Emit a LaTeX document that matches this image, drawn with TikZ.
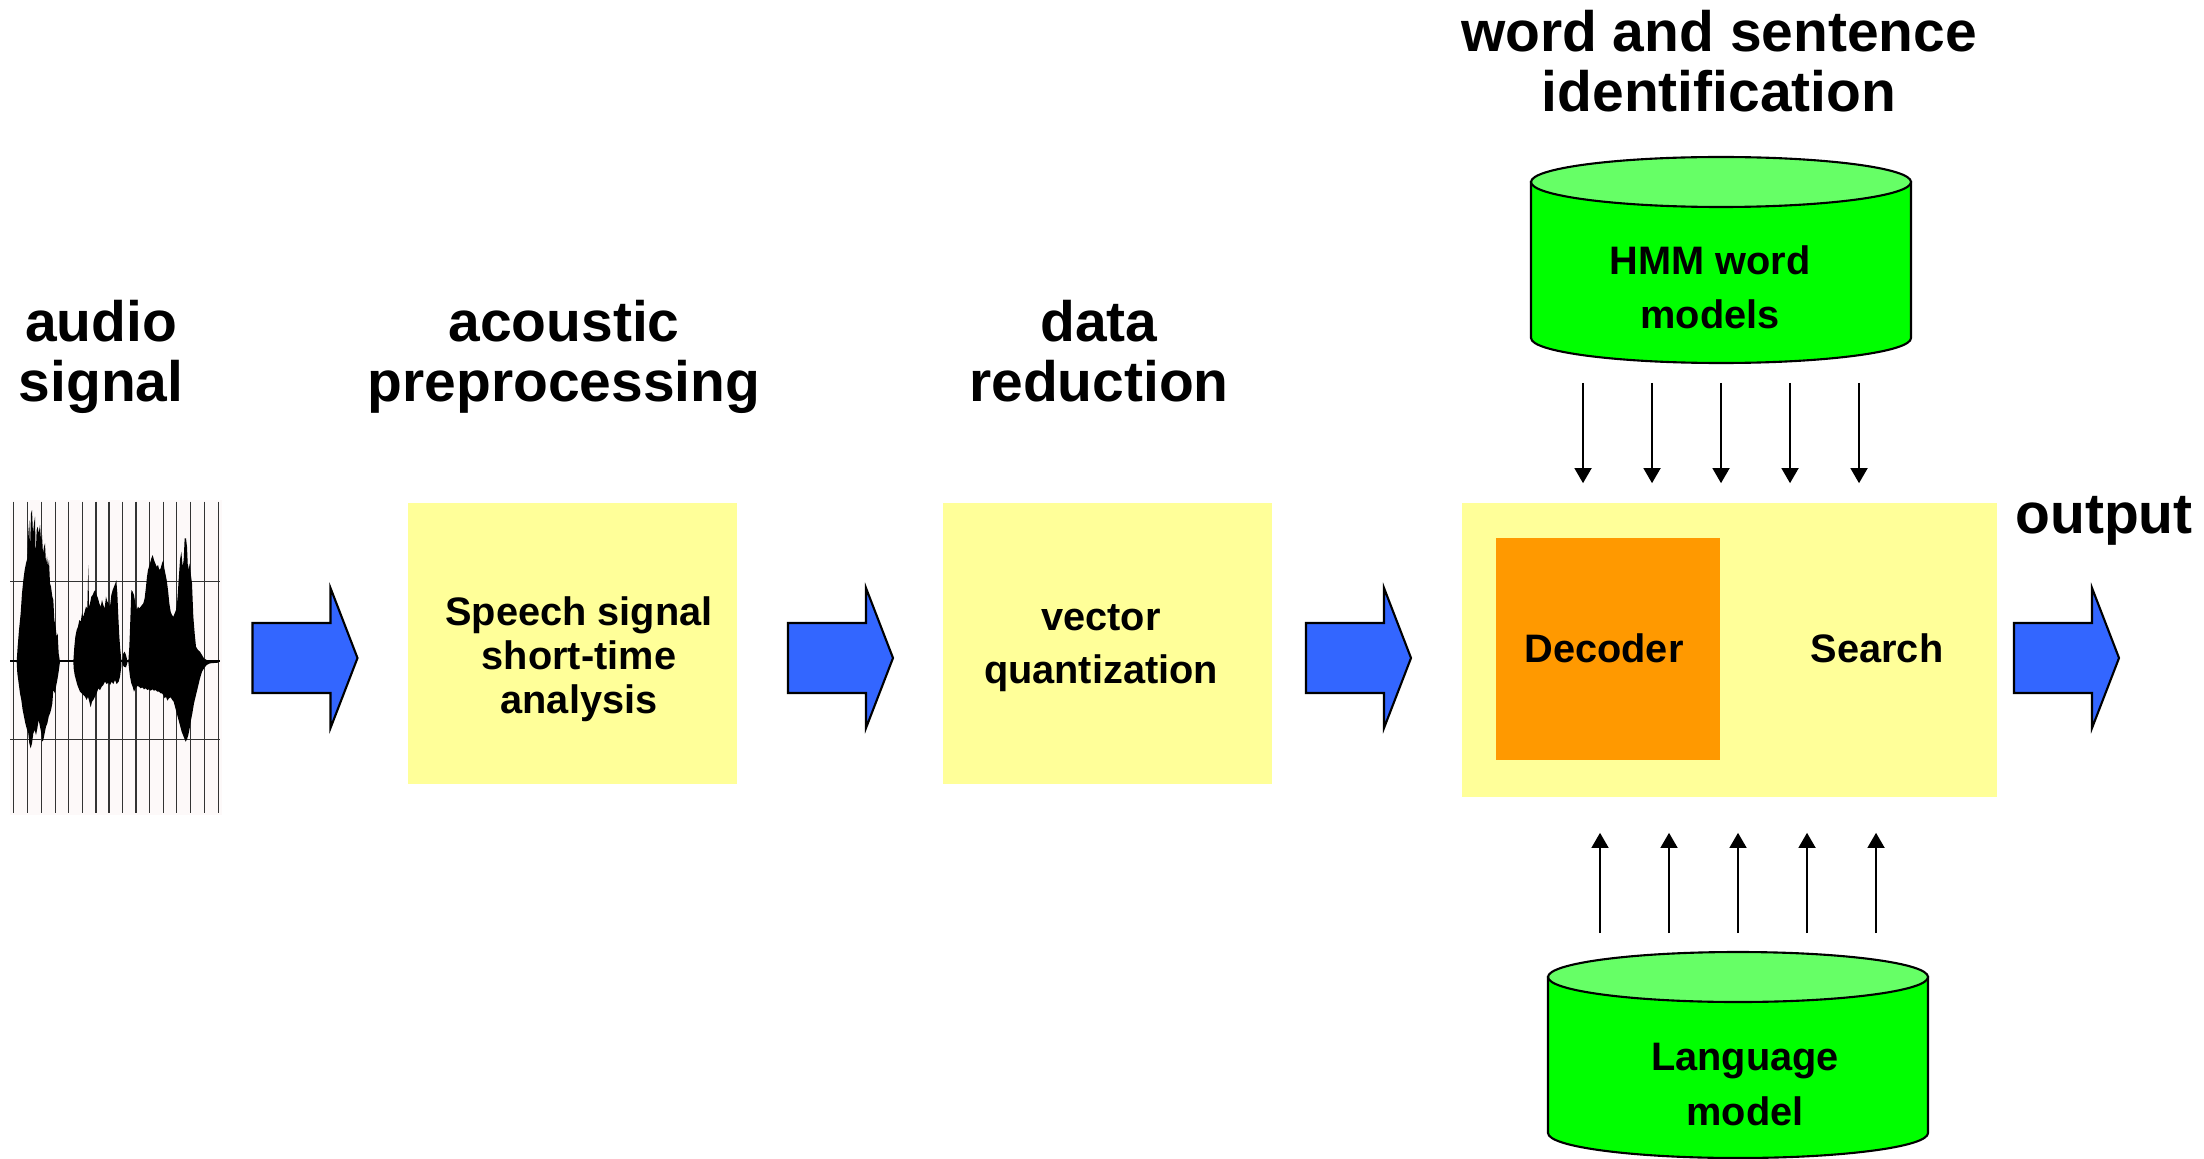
\documentclass[tikz,border=0pt]{standalone}
\usepackage{fontspec}
\setmainfont{Liberation Sans}
\usetikzlibrary{arrows.meta}

\definecolor{boxyellow}{HTML}{FFFF99}
\definecolor{decorange}{HTML}{FF9900}
\definecolor{dbgreen}{HTML}{00FF00}
\definecolor{dbtop}{HTML}{66FF66}
\definecolor{flowblue}{HTML}{3366FF}
\definecolor{wavepaper}{HTML}{FDF9F9}

% blue block arrow centred on x = #1
\newcommand\flowarrow[1]{%
  \draw[bigarrow] (#1-52,623) -- (#1+26,623) -- (#1+26,588) -- (#1+53,658)
    -- (#1+26,728) -- (#1+26,693) -- (#1-52,693) -- cycle;}

\begin{document}
\begin{tikzpicture}[x=0.01cm, y=-0.01cm,
  % multi-line nodes: the base anchor sits on the last line's baseline
  title/.style={font=\bfseries\fontsize{16.2}{17.1}\selectfont, align=center, inner sep=0pt, anchor=base},
  boxtext/.style={font=\bfseries\fontsize{11.3}{#1}\selectfont, align=center, inner sep=0pt, anchor=base},
  boxtext/.default=12.5,
  ybox/.style={fill=boxyellow, draw=none, inner sep=0pt},
  vec/.style={line width=0.6pt, -{Triangle[width=4.8pt,length=4.3pt]}},
  bigarrow/.style={fill=flowblue, draw=black, line width=0.6pt, line join=miter},
  dbside/.style={fill=dbgreen, draw=black, line width=0.6pt},
  dbcap/.style={fill=dbtop, draw=black, line width=0.6pt},
  gridln/.style={draw=black!80, line width=0.45pt},
  dbshape/.style={inner sep=0pt, minimum width=3.8cm, minimum height=2.06cm}]

\useasboundingbox (0,0) rectangle (2204,1158);

% ---- titles ----
\node[title] (ttl1) at (101,402) {audio\\signal};
\node[title] (ttl2) at (564,402) {acoustic\\preprocessing};
\node[title] (ttl3) at (1099,402) {data\\reduction};
\node[title] (ttl4) at (1719,112) {word and sentence\\identification};
\node[title] (ttl5) at (2104,533) {output};

% ---- speech waveform with time/amplitude grid ----
\begin{scope}[shift={(0,480)}, scale=1/3]
  \fill[wavepaper] (30,60) rectangle (665,1005);
  \foreach \x in {40,83,125,167,205,247,288,327,368,408,448,490,530,572,613,655}
    \draw[gridln] (\x,65) -- (\x,1000);
  \foreach \y in {305,778}
    \draw[gridln] (30,\y) -- (660,\y);
  \draw[line width=0.75pt] (30,543) -- (660,543);
  % first burst
  \fill (50,545) -- (53,500) -- (57,450) -- (62,400) -- (66,340) -- (70,300) -- (74,270) -- (78,250)
    -- (82,235) -- (85,160) -- (88,120) -- (90,210) -- (93,100) -- (96,90) -- (99,160) -- (102,130)
    -- (105,110) -- (107,230) -- (110,150) -- (113,140) -- (116,160) -- (120,135) -- (123,180)
    -- (126,165) -- (129,220) -- (132,200) -- (135,190) -- (138,250) -- (141,230) -- (144,260)
    -- (147,240) -- (150,310) -- (153,320) -- (157,350) -- (160,360) -- (163,420) -- (167,440)
    -- (170,470) -- (173,460) -- (176,520) -- (180,545)
    -- (176,575) -- (172,600) -- (168,620) -- (165,640) -- (160,630) -- (157,670) -- (153,690)
    -- (150,700) -- (146,710) -- (142,730) -- (138,740) -- (134,760) -- (130,780) -- (127,785)
    -- (124,760) -- (120,740) -- (116,720) -- (112,745) -- (108,765) -- (104,750) -- (100,760)
    -- (96,790) -- (92,805) -- (88,790) -- (85,760) -- (80,745) -- (76,730) -- (72,710) -- (68,690)
    -- (64,660) -- (60,640) -- (56,610) -- (52,580) -- cycle;
  % second burst
  \fill (220,545) -- (223,500) -- (226,470) -- (230,450) -- (234,440) -- (238,420) -- (242,425)
    -- (246,400) -- (250,410) -- (254,395) -- (258,380) -- (262,385) -- (265,255) -- (267,380)
    -- (270,370) -- (274,350) -- (278,345) -- (282,335) -- (286,330) -- (290,345) -- (294,355)
    -- (298,370) -- (302,380) -- (306,360) -- (310,375) -- (314,385) -- (318,350) -- (322,365)
    -- (326,370) -- (330,380) -- (334,345) -- (338,330) -- (342,320) -- (346,310) -- (349,300)
    -- (352,340) -- (355,410) -- (358,470) -- (361,510) -- (364,540)
    -- (364,560) -- (360,590) -- (356,605) -- (350,612) -- (345,600) -- (340,612) -- (335,605)
    -- (330,615) -- (325,608) -- (320,612) -- (315,605) -- (310,615) -- (305,620) -- (300,630)
    -- (295,625) -- (290,640) -- (285,650) -- (280,660) -- (276,665) -- (272,682) -- (268,665)
    -- (264,650) -- (260,660) -- (255,650) -- (250,645) -- (245,640) -- (240,635) -- (236,625)
    -- (232,615) -- (228,600) -- (224,585) -- (221,565) -- cycle;
  \fill (366,545) -- (370,520) -- (374,515) -- (378,525) -- (383,545) -- (378,562) -- (372,560)
    -- (368,555) -- cycle;
  % third burst
  \fill (385,545) -- (388,500) -- (391,420) -- (394,330) -- (398,335) -- (402,345) -- (406,370)
    -- (410,390) -- (414,380) -- (418,385) -- (422,380) -- (426,375) -- (430,370) -- (434,355)
    -- (438,320) -- (441,290) -- (444,270) -- (447,260) -- (450,250) -- (454,235) -- (458,225)
    -- (462,240) -- (466,250) -- (470,260) -- (474,255) -- (478,270) -- (482,265) -- (486,250)
    -- (490,240) -- (493,265) -- (496,280) -- (500,300) -- (504,330) -- (508,370) -- (512,395)
    -- (516,405) -- (520,410) -- (524,400) -- (528,390) -- (532,360) -- (536,300) -- (540,240)
    -- (544,215) -- (548,260) -- (551,240) -- (554,175) -- (558,175) -- (561,200) -- (564,270)
    -- (568,250) -- (572,280) -- (576,310) -- (580,410) -- (584,460) -- (588,500) -- (594,510)
    -- (600,515) -- (606,525) -- (612,535) -- (620,540) -- (630,545) -- (655,545)
    -- (655,548) -- (630,550) -- (620,555) -- (612,565) -- (606,575) -- (600,595) -- (594,620)
    -- (588,645) -- (582,670) -- (577,700) -- (573,720) -- (569,745) -- (565,765) -- (561,778)
    -- (557,785) -- (553,775) -- (549,765) -- (545,755) -- (541,740) -- (537,725) -- (533,710)
    -- (529,695) -- (525,680) -- (521,665) -- (517,660) -- (512,652) -- (507,655) -- (502,662)
    -- (498,650) -- (494,655) -- (490,645) -- (486,640) -- (482,640) -- (477,635) -- (472,635)
    -- (467,630) -- (462,632) -- (457,628) -- (452,632) -- (447,628) -- (442,630) -- (437,625)
    -- (432,628) -- (427,622) -- (422,625) -- (417,620) -- (412,618) -- (407,625) -- (402,635)
    -- (398,620) -- (394,610) -- (390,590) -- (387,565) -- cycle;
\end{scope}

% ---- processing stages ----
\node[ybox, minimum width=3.29cm, minimum height=2.81cm] (pre) at (572.5,643.5) {};
\node[ybox, minimum width=3.29cm, minimum height=2.81cm] (vq) at (1107.5,643.5) {};
\node[ybox, minimum width=5.35cm, minimum height=2.94cm] (search) at (1729.5,650) {};
\node[fill=decorange, inner sep=0pt, minimum width=2.24cm, minimum height=2.22cm] (dec) at (1608,649) {};

\node[boxtext=12.5] (pretext) at (579,713) {Speech signal\\short-time\\analysis};
\node[boxtext=14.8] (vqtext) at (1101,683) {vector\\quantization};
\node[boxtext] (dectext) at (1604,662) {Decoder};
\node[boxtext] (srchtext) at (1877,662) {Search};

% ---- block arrows between stages ----
\flowarrow{304.5}
\flowarrow{840}
\flowarrow{1358}
\flowarrow{2066}

% ---- HMM word model database ----
\fill[dbside] (1531,182) -- (1531,338) arc[start angle=180, end angle=0, x radius=190, y radius=25] -- (1911,182) -- cycle;
\draw[dbcap] (1721,182) ellipse [x radius=190, y radius=25];
\node[dbshape] (hmm) at (1721,260) {};
\node[boxtext=15.1] (hmmtext) at (1710,328) {HMM word\\models};

% ---- language model database ----
\fill[dbside] (1548,977) -- (1548,1133) arc[start angle=180, end angle=0, x radius=190, y radius=25] -- (1928,977) -- cycle;
\draw[dbcap] (1738,977) ellipse [x radius=190, y radius=25];
\node[dbshape] (lm) at (1738,1055) {};
\node[boxtext=15.4] (lmtext) at (1745,1125) {Language\\model};

% ---- knowledge flows into the search ----
\foreach \d in {-138,-69,0,69,138}{
  \path (hmm.south) ++(\d,0) coordinate (s);
  \draw[vec, shorten <=0.19cm, shorten >=0.19cm] (s) -- (s |- search.north);
}
\foreach \d in {-138,-69,0,69,138}{
  \path (lm.north) ++(\d,0) coordinate (s);
  \draw[vec, shorten <=0.18cm, shorten >=0.35cm] (s) -- (s |- search.south);
}
\end{tikzpicture}
\end{document}
